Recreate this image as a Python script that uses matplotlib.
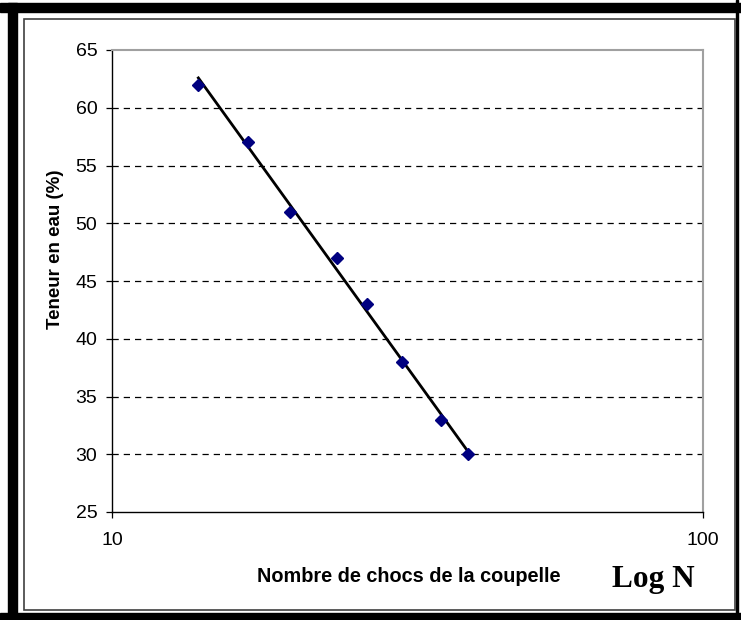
import numpy as np
import matplotlib.pyplot as plt
from matplotlib.patches import Rectangle
from matplotlib.ticker import FixedLocator, NullLocator, FixedFormatter

# nombre de chocs / teneur en eau
N = [14, 17, 20, 24, 27, 31, 36, 40]
W = [62, 57, 51, 47, 43, 38, 33, 30]
yticks = [25, 30, 35, 40, 45, 50, 55, 60, 65]
xticks = [10, 100]
xlabels = ['10', '100']

W_PX, H_PX = 741, 620
fig = plt.figure(figsize=(W_PX / 100, H_PX / 100), dpi=100)
fig.patch.set_facecolor('white')

def fx(px):
    return px / W_PX

def fy(py):
    return 1 - py / H_PX

# cadre noir epais + cadre interieur
fig.patches.append(Rectangle((0, fy(12)), 1, fy(3) - fy(12), transform=fig.transFigure,
                             color='black', zorder=0))
fig.patches.append(Rectangle((fx(8), 0), fx(17) - fx(8), fy(3), transform=fig.transFigure,
                             color='black', zorder=0))
fig.patches.append(Rectangle((0, 0), 1, fy(613), transform=fig.transFigure,
                             color='black', zorder=0))
fig.patches.append(Rectangle((fx(736), 0), fx(738) - fx(736), 1, transform=fig.transFigure,
                             color='black', zorder=0))
fig.patches.append(Rectangle((fx(24), fy(610)), fx(735) - fx(24), fy(19) - fy(610),
                             transform=fig.transFigure, fill=False, edgecolor='#404040',
                             lw=1.2, zorder=1))

ax = fig.add_axes([fx(112), fy(512), fx(703) - fx(112), fy(50) - fy(512)])
ax.set_xscale('log')
ax.set_xlim(10, 100)
ax.set_ylim(25, 65)

for v in yticks[1:-1]:
    ax.axhline(v, color='black', lw=0.9, ls=(0, (5, 4)), zorder=1)

# courbe de tendance logarithmique
b, a = np.polyfit(np.log10(N), W, 1)
xt = np.array([min(N), max(N)])
ax.plot(xt, a + b * np.log10(xt), color='black', lw=2.0, zorder=2)
ax.plot(N, W, ls='none', marker='D', ms=6, color='#000080', zorder=3)

ax.xaxis.set_major_locator(FixedLocator(xticks))
ax.xaxis.set_major_formatter(FixedFormatter(xlabels))
ax.xaxis.set_minor_locator(NullLocator())
ax.set_yticks(yticks)

ax.tick_params(axis='y', direction='out', length=4.5, width=0.9, pad=6,
               labelsize=14, colors='black')
ax.tick_params(axis='x', direction='out', length=4.5, width=0.9, pad=10,
               labelsize=14, colors='black')
for lab in ax.get_xticklabels() + ax.get_yticklabels():
    lab.set_fontfamily('Liberation Sans')

ax.spines['left'].set_color('black')
ax.spines['bottom'].set_color('black')
ax.spines['left'].set_linewidth(1.0)
ax.spines['bottom'].set_linewidth(1.0)
ax.spines['top'].set_color('#a0a0a0')
ax.spines['right'].set_color('#a0a0a0')
ax.spines['top'].set_linewidth(1.5)
ax.spines['right'].set_linewidth(1.5)

fig.text(fx(55), fy(249), 'Teneur en eau (%)', rotation=90, ha='center', va='center',
         fontsize=13.5, fontweight='bold', family='Liberation Sans')
fig.text(fx(409), fy(576), 'Nombre de chocs de la coupelle', ha='center', va='center',
         fontsize=14.3, fontweight='bold', family='Liberation Sans')
fig.text(fx(653), fy(580), 'Log N', ha='center', va='center',
         fontsize=22.5, fontweight='bold', family='Liberation Serif')

fig.savefig('out.png', dpi=100)
